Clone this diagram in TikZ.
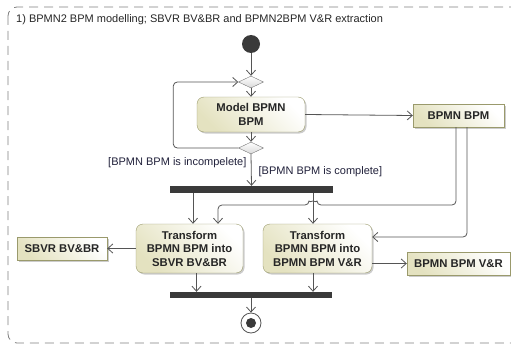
\documentclass[tikz,border=0pt]{standalone}
\usepackage{fontspec}
\setmainfont{Liberation Sans}
\usetikzlibrary{shapes.geometric, arrows.meta, shadows}

\definecolor{linegray}{HTML}{555555}
\definecolor{boxedge}{HTML}{9A9A6C}
\definecolor{boxfill}{HTML}{E4E2C0}
\definecolor{bardark}{HTML}{3A3A3A}
\definecolor{guardtext}{HTML}{20203A}

\begin{document}
\begin{tikzpicture}[x=1pt, y=-1pt,
  action/.style={draw=boxedge, rounded corners=7pt, top color=white, bottom color=boxfill, shading angle=-45,
    drop shadow={shadow xshift=1.5pt, shadow yshift=-1.5pt, fill=black!40, opacity=0.5},
    align=center, font=\bfseries\fontsize{11.3}{13.5}\selectfont, text=black!85, inner sep=1pt},
  objbox/.style={draw=boxedge, top color=white, bottom color=boxfill, shading angle=-45,
    drop shadow={shadow xshift=1.5pt, shadow yshift=-1.5pt, fill=black!40, opacity=0.5},
    font=\bfseries\fontsize{11.3}{13.5}\selectfont, text=black!85, minimum height=23pt, inner sep=1pt},
  choice/.style={diamond, draw=linegray!80, top color=white, bottom color=black!15, minimum width=25pt, minimum height=12pt, inner sep=0pt},
  forkbar/.style={fill=bardark, minimum height=7pt, inner sep=0pt},
  flow/.style={draw=linegray, line width=0.8pt, -{Straight Barb[length=5pt, width=9pt]}},
  guard/.style={font=\fontsize{11}{13}\selectfont, text=guardtext, inner sep=0pt}]
\useasboundingbox (0,0) rectangle (511,345);
% Frame
\draw[black!50, line width=0.8pt, dash pattern=on 9pt off 6pt, rounded corners=9pt] (8,7) rectangle (530,343);
\node[anchor=west, font=\fontsize{11}{13}\selectfont, text=black!85, inner sep=0pt] (title) at (16,20) {1) BPMN2 BPM modelling; SBVR BV\&BR and BPMN2BPM V\&R extraction};
% Nodes
\node[circle, fill=bardark, minimum size=18pt, inner sep=0pt] (init) at (251,44) {};
\node[choice] (d1) at (251,82) {};
\node[action, minimum width=108pt, minimum height=35pt] (model) at (251,114.5) {Model BPMN\\BPM};
\node[choice] (d2) at (251,148) {};
\node[objbox, minimum width=91pt] (bpm) at (458.5,115.5) {BPMN BPM};
\node[forkbar, minimum width=163pt] (bar1) at (251.5,189.5) {};
\node[action, minimum width=107pt, minimum height=49pt] (tr1) at (189.5,248.5) {Transform\\BPMN BPM into\\SBVR BV\&BR};
\node[action, minimum width=109pt, minimum height=49pt] (tr2) at (317.5,248.5) {Transform\\BPMN BPM into\\BPMN BPM V\&R};
\node[objbox, minimum width=90pt] (sbvr) at (62,248.5) {SBVR BV\&BR};
\node[objbox, minimum width=103pt] (vr) at (458.5,263.5) {BPMN BPM V\&R};
\node[forkbar, minimum width=162pt, minimum height=6pt] (bar2) at (251,295) {};
\node[circle, draw=linegray, line width=0.8pt, fill=white, minimum size=20pt, inner sep=0pt] (final) at (251,323) {};
\node[circle, fill=bardark, minimum size=10pt, inner sep=0pt] (finaldot) at (final) {};
\coordinate (hop) at (313,205);
% Arrows
\draw[flow] (init) -- (d1.north);
\draw[flow] (d1.south) -- (model.north);
\draw[flow] (model.south) -- (d2.north);
\draw[flow, rounded corners=4pt] (d2.west)
  node[anchor=north east, xshift=8.5pt, yshift=-9pt, guard] {[BPMN BPM is incompelete]}
  -| ([xshift=-65pt]d1.west) -- (d1.west);
\draw[flow] (d2.south) -- (bar1.north) node[midway, right, xshift=7pt, yshift=-2pt, guard] {[BPMN BPM is complete]};
\draw[flow] (model.east) -- (bpm.west);
\draw[flow] ([xshift=3.5pt]tr1.north |- bar1.south) -- ([xshift=3.5pt]tr1.north);
\draw[flow] ([xshift=-4.5pt]tr2.north |- bar1.south) -- ([xshift=-4.5pt]tr2.north);
\draw[flow, rounded corners=4pt] ([xshift=-2.5pt]bpm.south) |- ([xshift=4pt]hop)
  arc[start angle=0, end angle=180, radius=4pt] -| ([xshift=28.5pt]tr1.north);
\draw[flow, rounded corners=4pt] ([xshift=8.5pt]bpm.south) |- ([yshift=11.5pt]tr2.east);
\draw[flow] (tr1.west) -- (sbvr.east);
\draw[flow] (tr2.east |- vr.west) -- (vr.west);
\draw[flow] ([xshift=7pt]tr1.south) -- ([xshift=7pt]tr1.south |- bar2.north);
\draw[flow] ([xshift=-4.5pt]tr2.south) -- ([xshift=-4.5pt]tr2.south |- bar2.north);
\draw[flow] (bar2.south) -- (final.north);
\end{tikzpicture}
\end{document}
